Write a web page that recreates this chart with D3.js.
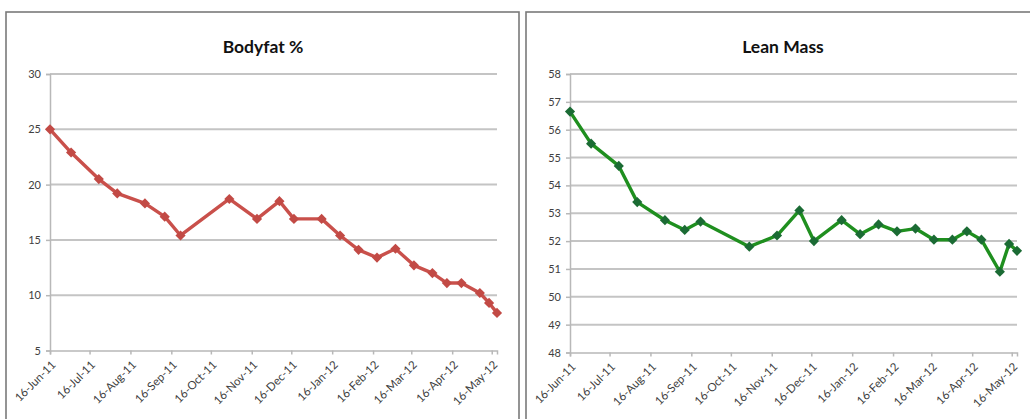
<!DOCTYPE html>
<html>
<head>
<meta charset="utf-8">
<script src="https://cdn.jsdelivr.net/npm/d3@7"></script>
<style>
  html, body { margin: 0; padding: 0; background: #fff; }
  svg { display: block; }
</style>
</head>
<body>
<svg id="chart" width="1030" height="419"></svg>
<script>
// Measurement dates shared by both series
const dates = [
  "2011-06-16", "2011-07-02", "2011-07-23", "2011-08-06", "2011-08-27",
  "2011-09-11", "2011-09-23", "2011-10-30", "2011-11-20", "2011-12-07",
  "2011-12-18", "2012-01-08", "2012-01-22", "2012-02-05", "2012-02-19",
  "2012-03-04", "2012-03-18", "2012-04-01", "2012-04-12", "2012-04-23",
  "2012-05-07", "2012-05-14", "2012-05-20"
];

// Body fat percentage at each date
const bodyfat = [
  25.0, 22.9, 20.5, 19.2, 18.3, 17.1, 15.4, 18.7, 16.9, 18.5,
  16.9, 16.9, 15.4, 14.1, 13.4, 14.2, 12.7, 12.0, 11.1, 11.1,
  10.2, 9.3, 8.4
];

// Lean mass at each date
const leanMass = [
  56.65, 55.5, 54.7, 53.4, 52.75, 52.4, 52.7, 51.8, 52.2, 53.1,
  52.0, 52.75, 52.25, 52.6, 52.35, 52.45, 52.05, 52.05, 52.35, 52.05,
  50.9, 51.9, 51.65
];

// Monthly tick dates on the x axis
const xTicks = [
  "2011-06-16", "2011-07-16", "2011-08-16", "2011-09-16", "2011-10-16",
  "2011-11-16", "2011-12-16", "2012-01-16", "2012-02-16", "2012-03-16",
  "2012-04-16", "2012-05-16"
];

const bodyfatTicks = [5, 10, 15, 20, 25, 30];
const leanTicks = [48, 49, 50, 51, 52, 53, 54, 55, 56, 57, 58];

const parse = d3.utcParse("%Y-%m-%d");
const fmt = d3.utcFormat("%-d-%b-%y");
const dateVals = dates.map(parse);
const tickVals = xTicks.map(parse);

const svg = d3.select("#chart");
const FONT = "Lato, 'Open Sans', 'Liberation Sans', sans-serif";

function panel(opt) {
  const g = svg.append("g");

  // chart frame
  g.append("rect")
    .attr("x", opt.frame[0]).attr("y", opt.frame[1])
    .attr("width", opt.frame[2]).attr("height", opt.frame[3])
    .attr("fill", "#fff").attr("stroke", "#7a7a7a").attr("stroke-width", 1.6);

  const x = d3.scaleUtc()
    .domain([dateVals[0], dateVals[dateVals.length - 1]])
    .range([opt.left, opt.right]);
  const y = d3.scaleLinear()
    .domain(opt.yDomain)
    .range([opt.bottom, opt.top]);

  // title
  g.append("text")
    .attr("x", opt.titleX).attr("y", 53)
    .attr("text-anchor", "middle")
    .attr("font-family", FONT).attr("font-weight", "bold")
    .attr("font-size", 17.5).attr("fill", "#111")
    .text(opt.title);

  // horizontal gridlines
  g.append("g").selectAll("line")
    .data(opt.yTicks.filter(v => v !== opt.yDomain[0]))
    .join("line")
    .attr("x1", opt.left).attr("x2", opt.right)
    .attr("y1", d => y(d)).attr("y2", d => y(d))
    .attr("stroke", "#c4c4c4").attr("stroke-width", 2);

  // y axis
  const yAxis = g.append("g")
    .attr("transform", `translate(${opt.left},0)`)
    .call(d3.axisLeft(y).tickValues(opt.yTicks).tickSize(4).tickPadding(5).tickFormat(d3.format("d")));
  yAxis.select(".domain").attr("stroke", "#b8b8b8").attr("stroke-width", 1.5);
  yAxis.selectAll(".tick line").attr("stroke", "#b8b8b8").attr("stroke-width", 1.5);
  yAxis.selectAll("text")
    .attr("font-family", FONT).attr("font-size", 11).attr("fill", "#404040");

  // x axis
  const xAxis = g.append("g")
    .attr("transform", `translate(0,${opt.bottom})`)
    .call(d3.axisBottom(x).tickValues(tickVals).tickSize(4).tickFormat(fmt));
  xAxis.select(".domain").attr("stroke", "#b8b8b8").attr("stroke-width", 1.5);
  xAxis.selectAll(".tick line").attr("stroke", "#b8b8b8").attr("stroke-width", 1.5);
  xAxis.selectAll("text")
    .attr("font-family", FONT).attr("font-size", 11.5).attr("fill", "#404040")
    .attr("text-anchor", "end")
    .attr("dy", null).attr("y", 0)
    .attr("transform", "translate(6,15) rotate(-45)");

  // series line
  const pts = opt.values.map((v, i) => [x(dateVals[i]), y(v)]);
  g.append("path")
    .attr("d", d3.line()(pts))
    .attr("fill", "none")
    .attr("stroke", opt.lineColor).attr("stroke-width", 3.4)
    .attr("stroke-linejoin", "round");

  // diamond markers
  g.append("g").selectAll("path")
    .data(pts)
    .join("path")
    .attr("transform", d => `translate(${d[0]},${d[1]}) rotate(45)`)
    .attr("d", "M-3.6,-3.6H3.6V3.6H-3.6Z")
    .attr("fill", opt.markerColor);
}

panel({
  frame: [6, 12, 513, 440],
  left: 50, right: 497, top: 74, bottom: 350.5,
  yDomain: [5, 30], yTicks: bodyfatTicks,
  values: bodyfat, title: "Bodyfat %", titleX: 263,
  lineColor: "#c9504b", markerColor: "#c24a45"
});

panel({
  frame: [526, 12, 520, 440],
  left: 570, right: 1017, top: 74, bottom: 352.5,
  yDomain: [48, 58], yTicks: leanTicks,
  values: leanMass, title: "Lean Mass", titleX: 783,
  lineColor: "#1f8f1f", markerColor: "#1b6b34"
});
</script>
</body>
</html>
